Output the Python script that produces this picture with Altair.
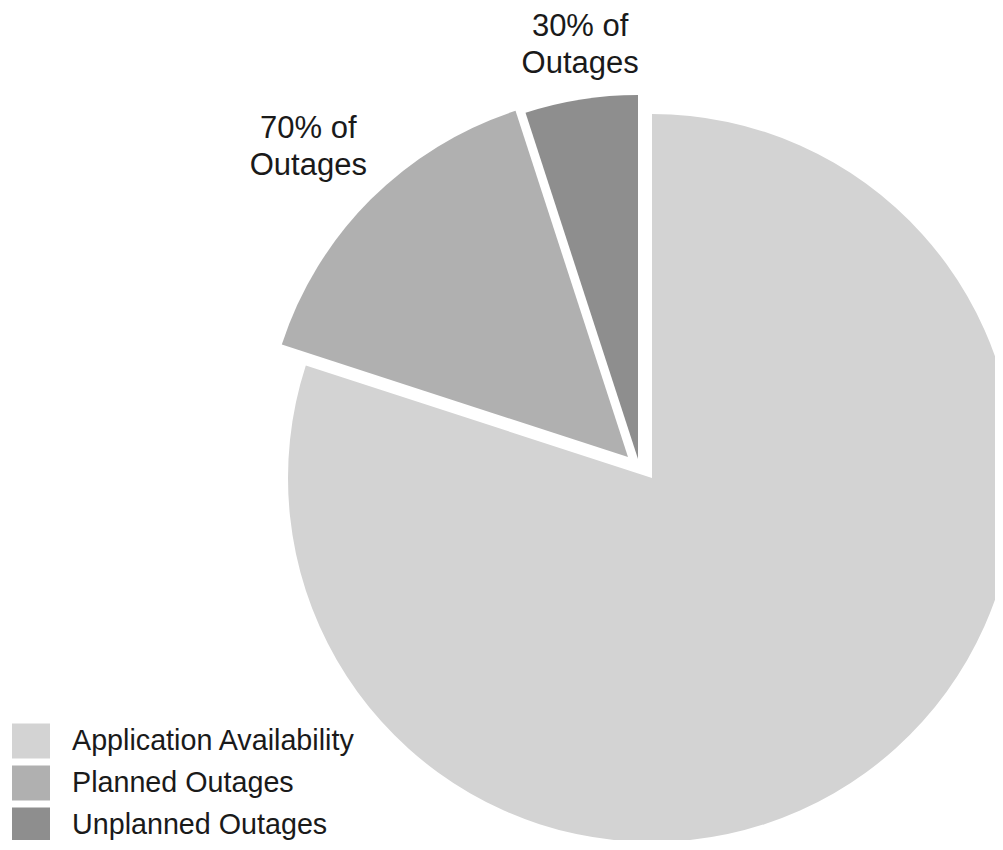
import altair as alt
import pandas as pd

# ---- data ----
categories = ["Application Availability", "Planned Outages", "Unplanned Outages"]
shares = [80, 15, 5]
slice_labels = ["", "70% of\nOutages", "30% of\nOutages"]

# ---- styles ----
colors = ["#d3d3d3", "#b0b0b0", "#8e8e8e"]
CX, CY, R = 644, 470, 364
explode = {
    "Application Availability": (0, 0),
    "Planned Outages": (-24, -21),
    "Unplanned Outages": (-14, -19),
}
label_r = {"Planned Outages": 445, "Unplanned Outages": 421}
label_dx = {"Planned Outages": -5, "Unplanned Outages": 8}
label_dy = {"Planned Outages": -13, "Unplanned Outages": -16}
FONT = "Liberation Sans"

df = pd.DataFrame({
    "category": categories,
    "share": shares,
    "label": slice_labels,
    "order": list(range(len(categories))),
})

base = (
    alt.Chart(df)
    .transform_window(cum="sum(share)", sort=[alt.SortField("order")], frame=[None, 0])
    .transform_joinaggregate(total="sum(share)")
    .transform_calculate(
        t0="2*PI*(datum.cum - datum.share)/datum.total",
        t1="2*PI*datum.cum/datum.total",
    )
    .transform_calculate(tm="(datum.t0 + datum.t1)/2")
)

color = alt.Color(
    "category:N",
    scale=alt.Scale(domain=categories, range=colors),
    legend=alt.Legend(
        title=None,
        orient="none",
        legendX=4,
        legendY=714,
        symbolType="M-1,-0.92H1V0.92H-1Z",
        symbolSize=1444,
        symbolStrokeWidth=0,
        symbolOpacity=1,
        labelFontSize=28.7,
        labelFont=FONT,
        labelColor="#1a1a1a",
        labelLimit=500,
        labelOffset=22,
        rowPadding=5,
        padding=0,
    ),
)

layers = []
for cat in categories:
    dx, dy = explode[cat]
    arc = (
        base.transform_filter(alt.datum.category == cat)
        .mark_arc(strokeWidth=0)
        .encode(
            x=alt.value(CX + dx),
            y=alt.value(CY + dy),
            theta=alt.Theta("t0:Q", scale=None),
            theta2=alt.Theta2("t1:Q"),
            radius=alt.value(R),
            color=color,
        )
    )
    layers.append(arc)

for cat in ["Planned Outages", "Unplanned Outages"]:
    dx, dy = explode[cat]
    txt = (
        base.transform_filter(alt.datum.category == cat)
        .mark_text(
            font=FONT,
            fontSize=31,
            color="#1a1a1a",
            align="center",
            baseline="middle",
            lineBreak="\n",
            lineHeight=37,
            dx=label_dx[cat],
            dy=label_dy[cat],
        )
        .encode(
            x=alt.value(CX + dx),
            y=alt.value(CY + dy),
            theta=alt.Theta("tm:Q", scale=None),
            radius=alt.value(label_r[cat]),
            text="label:N",
        )
    )
    layers.append(txt)

chart = (
    alt.layer(*layers)
    .properties(width=987, height=832, autosize=alt.AutoSizeParams(type="none"), padding=0)
    .configure(background="white")
    .configure_view(stroke=None)
)

chart.save("out.html", embed_options={"renderer": "svg", "actions": False})
